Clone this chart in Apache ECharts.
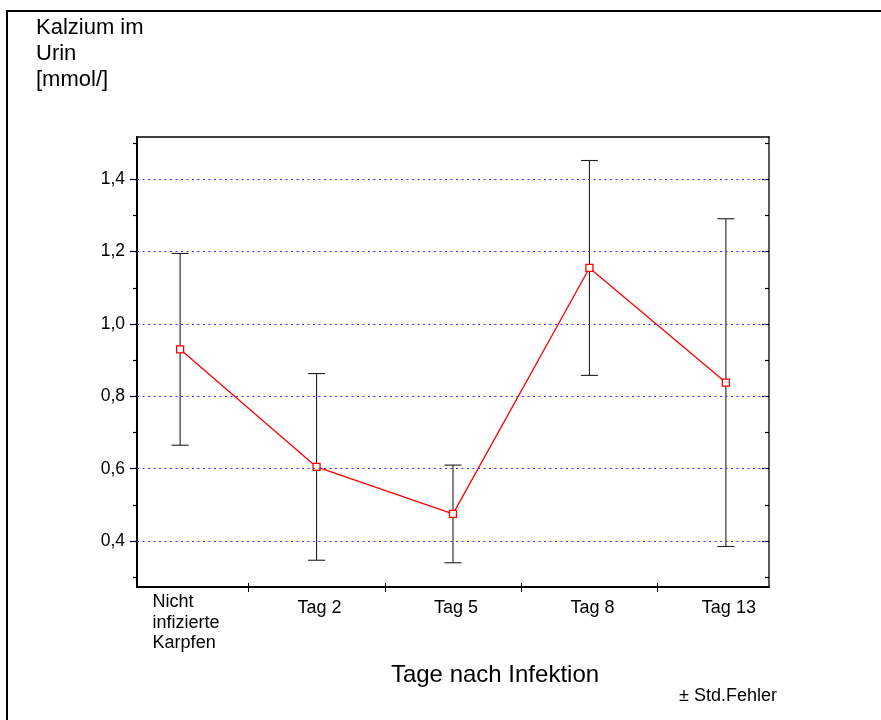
<!DOCTYPE html>
<html>
<head>
<meta charset="utf-8">
<title>Kalzium im Urin</title>
<script src="https://cdn.jsdelivr.net/npm/echarts@6/dist/echarts.min.js"></script>
<style>
  html, body { margin: 0; padding: 0; background: #ffffff; }
  #chart { width: 881px; height: 720px; }
</style>
</head>
<body>
<div id="chart"></div>
<script>
// Groups along the x axis
const categories = ['Nicht\ninfizierte\nKarpfen', 'Tag 2', 'Tag 5', 'Tag 8', 'Tag 13'];
// Mean urinary calcium [mmol/l] and standard error per group
const means = [0.930, 0.605, 0.475, 1.155, 0.838];
const stdErr = [0.265, 0.258, 0.135, 0.297, 0.453];
// Value axis ticks
const yMajorTicks = [0.4, 0.6, 0.8, 1.0, 1.2, 1.4];
const yMinorTicks = [0.3, 0.5, 0.7, 0.9, 1.1, 1.3, 1.5];
const gridValues = [0.4, 0.6, 0.8, 1.0, 1.2, 1.4];
// Category separators on the x axis
const xSeparators = [0.5, 1.5, 2.5, 3.5];
const xLabelPositions = [0, 1, 2, 3, 4];
const Y_MIN = 0.273, Y_MAX = 1.517;
const X_MIN = -0.316, X_MAX = 4.316;

const FONT = '"Liberation Sans", Arial, Helvetica, sans-serif';

const chart = echarts.init(document.getElementById('chart'), null, { renderer: 'canvas' });

const lineData = means.map((m, i) => [i, m]);
const errData = means.map((m, i) => [i, m - stdErr[i], m + stdErr[i]]);

function yLabel(v) {
  return v.toFixed(1).replace('.', ',');
}

function xLabel(value) {
  const c = categories[Math.round(value)];
  if (c === undefined) return '';
  if (c.indexOf('\n') >= 0) {
    return c.split('\n').map(s => '{l|' + s + '}').join('\n');
  }
  return '{t|' + c + '}';
}

function axisLine(show, color, width) {
  return { show: show, onZero: false, lineStyle: { color: color || '#000', width: width || 1 } };
}

const valueAxisBase = {
  type: 'value', min: Y_MIN, max: Y_MAX,
  splitLine: { show: false },
  axisLabel: { show: false },
  axisTick: { show: false },
  axisLine: axisLine(false)
};

const option = {
  backgroundColor: '#ffffff',
  animation: false,
  grid: { left: 137, right: 112, top: 137, bottom: 133, containLabel: false },
  xAxis: [
    {
      type: 'value', min: X_MIN, max: X_MAX, position: 'bottom',
      splitLine: { show: false },
      axisLine: axisLine(true, '#000', 2),
      axisTick: { show: true, inside: true, length: 4, customValues: xSeparators,
                  lineStyle: { color: '#000', width: 1 } },
      axisLabel: {
        show: true, customValues: xLabelPositions, margin: 5,
        formatter: xLabel, color: '#000', fontFamily: FONT, fontSize: 18,
        rich: {
          l: { align: 'left', fontSize: 18, fontFamily: FONT, color: '#000', lineHeight: 20.5, padding: [0, 0, 0, 12] },
          t: { fontSize: 18, fontFamily: FONT, color: '#000', lineHeight: 32.5, padding: [0, 0, 0, 6] }
        }
      }
    },
    {
      type: 'value', min: X_MIN, max: X_MAX, position: 'bottom',
      splitLine: { show: false },
      axisLine: axisLine(false),
      axisLabel: { show: false },
      axisTick: { show: true, inside: false, length: 5, customValues: xSeparators,
                  lineStyle: { color: '#000', width: 1 } }
    },
    {
      type: 'value', min: X_MIN, max: X_MAX, position: 'top',
      splitLine: { show: false },
      axisLine: axisLine(true, '#000', 1.5),
      axisLabel: { show: false },
      axisTick: { show: false }
    }
  ],
  yAxis: [
    Object.assign({}, valueAxisBase, {
      position: 'left',
      axisLine: axisLine(true, '#000', 2),
      axisTick: { show: true, inside: false, length: 7, customValues: yMajorTicks,
                  lineStyle: { color: '#000', width: 1.2 } },
      axisLabel: { show: true, customValues: yMajorTicks, margin: 12, formatter: yLabel,
                   color: '#000', fontFamily: FONT, fontSize: 17.5 }
    }),
    Object.assign({}, valueAxisBase, {
      position: 'left',
      axisTick: { show: true, inside: false, length: 4, customValues: yMinorTicks,
                  lineStyle: { color: '#000', width: 1.2 } }
    }),
    Object.assign({}, valueAxisBase, {
      position: 'right',
      axisLine: axisLine(true, '#222', 1.5),
      axisTick: { show: true, inside: true, length: 7, customValues: yMajorTicks,
                  lineStyle: { color: '#000', width: 1.2 } }
    }),
    Object.assign({}, valueAxisBase, {
      position: 'right',
      axisTick: { show: true, inside: true, length: 4, customValues: yMinorTicks,
                  lineStyle: { color: '#000', width: 1.2 } }
    })
  ],
  graphic: [
    // page frame
    { type: 'line', silent: true, shape: { x1: 7, y1: 11, x2: 7, y2: 720 },
      style: { stroke: '#000', lineWidth: 2 } },
    { type: 'line', silent: true, shape: { x1: 6, y1: 11, x2: 881, y2: 11 },
      style: { stroke: '#000', lineWidth: 2 } },
    { type: 'text', left: 36, top: 15,
      style: { text: 'Kalzium im\nUrin\n[mmol/]', font: '22px ' + FONT, fill: '#000', lineHeight: 26 } },
    { type: 'text', x: 495, y: 675,
      style: { text: 'Tage nach Infektion', font: '24px ' + FONT, fill: '#000',
               textAlign: 'center', textVerticalAlign: 'middle' } },
    { type: 'text', x: 728, y: 696,
      style: { text: '\u00b1 Std.Fehler', font: '18px ' + FONT, fill: '#000',
               textAlign: 'center', textVerticalAlign: 'middle' } }
  ],
  series: [
    {
      // dotted horizontal reference lines
      type: 'line', xAxisIndex: 0, yAxisIndex: 0, data: [], z: 1, silent: true,
      markLine: {
        silent: true, symbol: ['none', 'none'], label: { show: false },
        lineStyle: { color: '#3333ff', width: 1, type: [2, 3.5] },
        data: gridValues.map(v => ({ yAxis: v }))
      }
    },
    {
      type: 'custom', xAxisIndex: 0, yAxisIndex: 0, z: 2, silent: true,
      data: errData,
      encode: { x: 0, y: [1, 2] },
      renderItem: function (params, api) {
        const x = api.value(0);
        const top = api.coord([x, api.value(2)]);
        const bot = api.coord([x, api.value(1)]);
        const w = 8.5;
        const style = { stroke: '#222', lineWidth: 1.1, fill: null };
        return {
          type: 'group',
          children: [
            { type: 'line', shape: { x1: top[0], y1: top[1], x2: bot[0], y2: bot[1] }, style: style },
            { type: 'line', shape: { x1: top[0] - w, y1: top[1], x2: top[0] + w, y2: top[1] }, style: style },
            { type: 'line', shape: { x1: bot[0] - w, y1: bot[1], x2: bot[0] + w, y2: bot[1] }, style: style }
          ]
        };
      }
    },
    {
      type: 'line', xAxisIndex: 0, yAxisIndex: 0, z: 3,
      data: lineData,
      symbol: 'rect', symbolSize: 7, showSymbol: true,
      lineStyle: { color: '#ff0000', width: 1.3 },
      itemStyle: { color: '#ffffff', borderColor: '#ff0000', borderWidth: 1.3 }
    }
  ]
};

chart.setOption(option);
</script>
</body>
</html>
